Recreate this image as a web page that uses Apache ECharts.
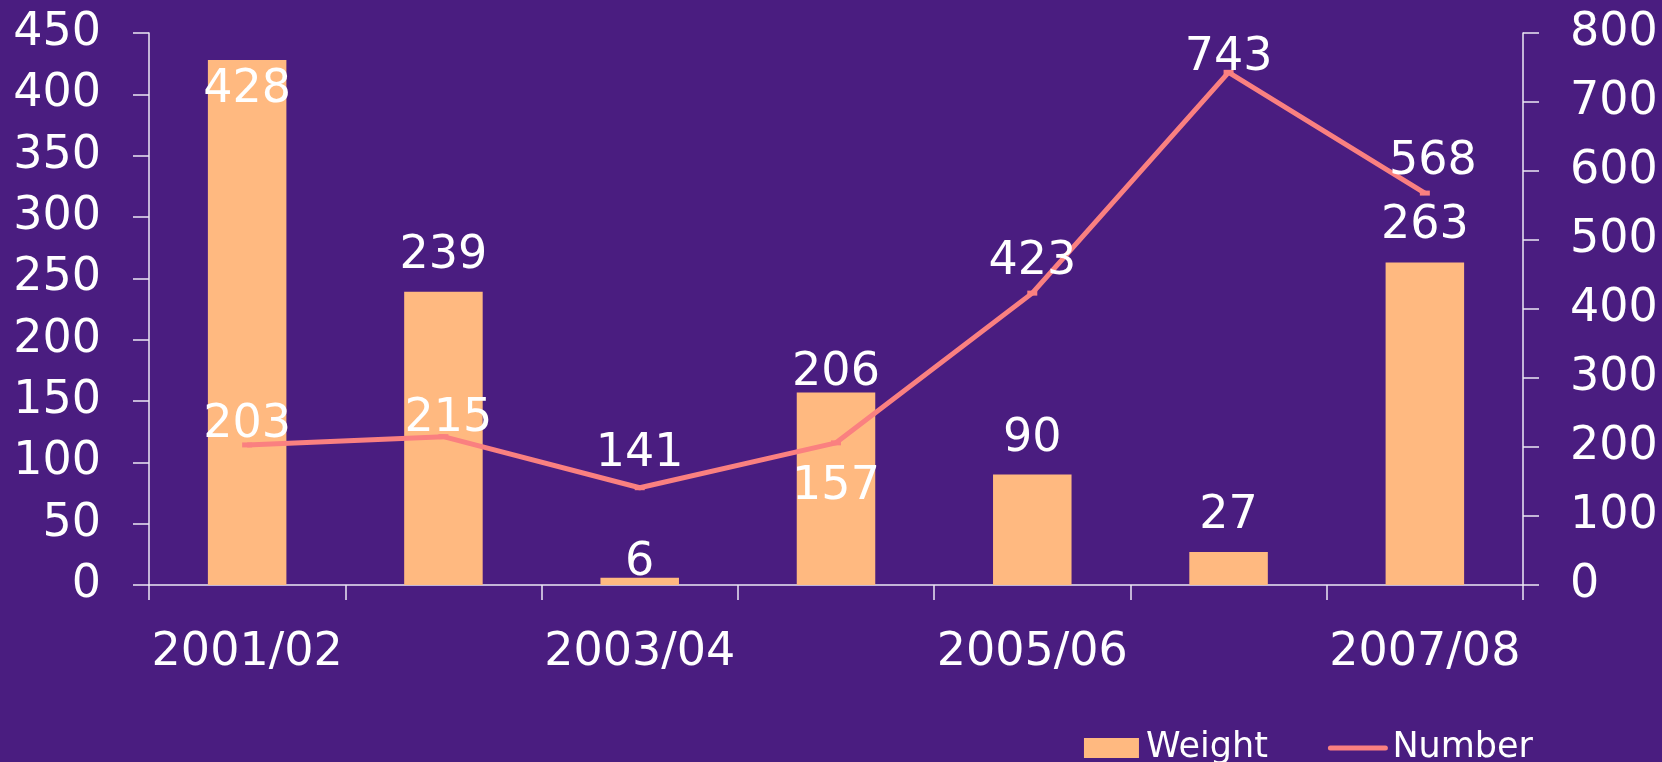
<!DOCTYPE html>
<html>
<head>
<meta charset="utf-8">
<script src="https://cdn.jsdelivr.net/npm/echarts@6/dist/echarts.min.js"></script>
<style>
html,body{margin:0;padding:0;background:#4a1d80;}
#chart{width:1662px;height:762px;}
</style>
</head>
<body>
<div id="chart"></div>
<script>
var categories = ['2001/02','2002/03','2003/04','2004/05','2005/06','2006/07','2007/08'];
var weight = [428, 239, 6, 157, 90, 27, 263];
var number = [203, 215, 141, 206, 423, 743, 568];
// label texts as printed on the picture (4th pair is swapped there)
var weightText = ['428','239','6','206','90','27','263'];
var numberText = ['203','215','141','157','423','743','568'];

var fontFam = '"DejaVu Sans", Verdana, sans-serif';
var white = '#ffffff';
var axisCol = '#ece8f4';

//label tweaks per point
var barLab = {
	0:{position:'insideTop', distance:7},
	2:{distance:-8},
	3:{distance:-4}
};
var lineLab = {
	0:{distance:-6},
	1:{distance:-8, offset:[5,0]},
	2:{distance:8},
	3:{position:'bottom', distance:19},
	4:{distance:6},
	5:{distance:-11},
	6:{distance:6, offset:[8,0]}
};

var barData = [];
for(var i=0;i<weight.length;i++){
	var lb = {formatter: weightText[i]};
	if(barLab[i]) for(var k in barLab[i]) lb[k]=barLab[i][k];
	barData.push({value:weight[i], label:lb});
}
var lineData = [];
for(var j=0;j<number.length;j++){
	var ll = {formatter: numberText[j]};
	if(lineLab[j]) for(var k2 in lineLab[j]) ll[k2]=lineLab[j][k2];
	lineData.push({value:number[j], label:ll});
}

var myChart = echarts.init(document.getElementById('chart'));
var option = {
	backgroundColor: '#4a1d80',
	animation: false,
	textStyle: {fontFamily: fontFam},
	grid: {left:149, right:139, top:33, bottom:177},
	legend: {
		right: 124,
		top: 722,
		itemWidth: 55,
		itemHeight: 20,
		itemGap: 60,
		textStyle: {color:white, fontSize:35, fontFamily:fontFam, lineHeight:42, padding:[0,0,0,2]},
		data: [
			{name:'Weight', icon:'rect'},
			{name:'Number', lineStyle:{width:5, cap:'round', color:'#fa8080'}, itemStyle:{opacity:0}}
		]
	},
	xAxis: {
		type: 'category',
		data: categories,
		axisLine: {lineStyle:{color:axisCol, width:1.5}},
		axisTick: {show:true, interval:0, length:15, lineStyle:{color:axisCol, width:1.5}},
		axisLabel: {interval:1, color:white, fontSize:46, fontFamily:fontFam, margin:45}
	},
	yAxis: [
		{
			type: 'value', min:0, max:450, interval:50,
			splitLine: {show:false},
			axisLine: {show:true, lineStyle:{color:axisCol, width:1.5}},
			axisTick: {show:true, length:16, lineStyle:{color:axisCol, width:1.5}},
			axisLabel: {color:white, fontSize:46, fontFamily:fontFam, margin:48}
		},
		{
			type: 'value', min:0, max:800, interval:100,
			splitLine: {show:false},
			axisLine: {show:true, lineStyle:{color:axisCol, width:1.5}},
			axisTick: {show:true, length:16, lineStyle:{color:axisCol, width:1.5}},
			axisLabel: {color:white, fontSize:46, fontFamily:fontFam, margin:47}
		}
	],
	series: [
		{
			name: 'Weight',
			type: 'bar',
			data: barData,
			barWidth: '40%',
			itemStyle: {color:'#ffb980'},
			label: {show:true, position:'top', distance:13, color:white, fontSize:46, fontFamily:fontFam}
		},
		{
			name: 'Number',
			type: 'line',
			yAxisIndex: 1,
			data: lineData,
			symbol: 'rect',
			symbolSize: [10,5],
			itemStyle: {color:'#fa8080'},
			lineStyle: {color:'#fa8080', width:5},
			label: {show:true, position:'top', distance:6, color:white, fontSize:46, fontFamily:fontFam}
		}
	]
};
myChart.setOption(option);
</script>
</body>
</html>
